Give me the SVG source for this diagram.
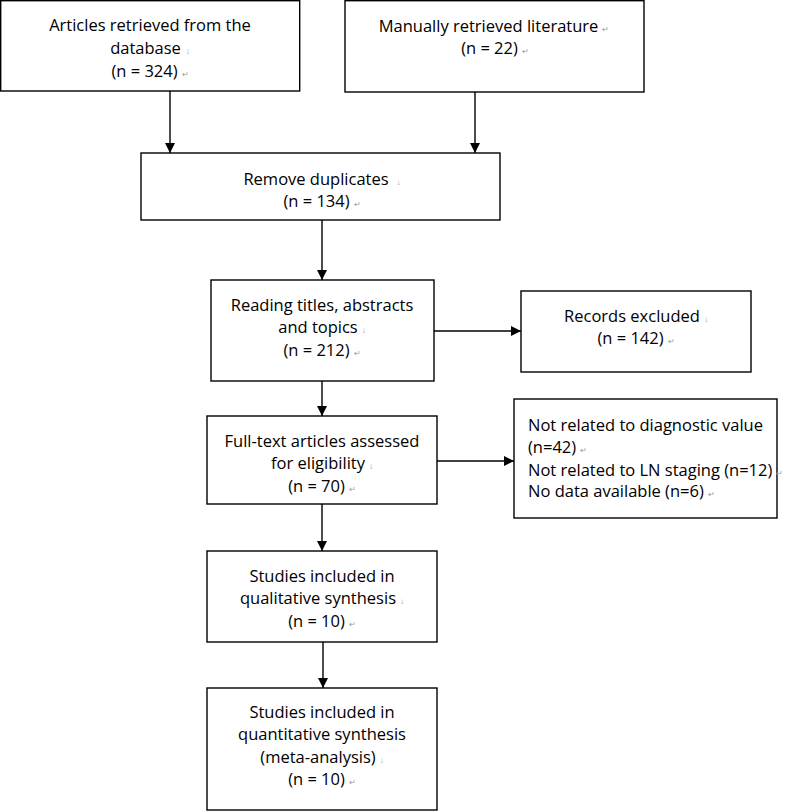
<svg xmlns="http://www.w3.org/2000/svg" width="797" height="812" viewBox="0 0 797 812">
<defs>
<style>
.box{fill:#fff;stroke:#000;stroke-width:1.4}
.t{font-family:"Open Sans","Noto Sans",sans-serif;font-size:16.5px;fill:#000;text-anchor:middle}
.l{text-anchor:start}
.m{font-size:8px;fill:#999}
.c{stroke:#000;stroke-width:1.4;fill:none}
</style>
<marker id="ah" markerWidth="10" markerHeight="10" refX="10" refY="5" orient="auto" markerUnits="userSpaceOnUse">
<path d="M0,0 L10,5 L0,10 Z" fill="#000"/>
</marker>
</defs>
<rect width="797" height="812" fill="#fff"/>
<g id="connectors">
<line class="c" x1="170" y1="91" x2="170" y2="153" marker-end="url(#ah)"/>
<line class="c" x1="475" y1="92" x2="475" y2="153" marker-end="url(#ah)"/>
<line class="c" x1="322" y1="220" x2="322" y2="280" marker-end="url(#ah)"/>
<line class="c" x1="322" y1="381" x2="322" y2="416" marker-end="url(#ah)"/>
<line class="c" x1="322" y1="504" x2="322" y2="551" marker-end="url(#ah)"/>
<line class="c" x1="323" y1="642" x2="323" y2="688" marker-end="url(#ah)"/>
<line class="c" x1="434" y1="331" x2="521" y2="331" marker-end="url(#ah)"/>
<line class="c" x1="437" y1="461" x2="514" y2="461" marker-end="url(#ah)"/>
</g>
<g id="n1">
<rect class="box" x="0.7" y="0.7" width="299" height="90.3"/>
<text class="t" x="150" y="31">Articles retrieved from the</text>
<text class="t" x="150" y="54">database<tspan class="m" dx="5">↓</tspan></text>
<text class="t" x="150" y="77">(n = 324)<tspan class="m" dx="4">↵</tspan></text>
</g>
<g id="n2">
<rect class="box" x="345" y="0.7" width="299" height="91.3"/>
<text class="t" x="494" y="32">Manually retrieved literature<tspan class="m" dx="4">↵</tspan></text>
<text class="t" x="495" y="54">(n = 22)<tspan class="m" dx="4">↵</tspan></text>
</g>
<g id="n3">
<rect class="box" x="141" y="153" width="359" height="67"/>
<text class="t" x="322" y="185">Remove duplicates<tspan class="m" dx="8">↓</tspan></text>
<text class="t" x="322" y="207">(n = 134)<tspan class="m" dx="4">↵</tspan></text>
</g>
<g id="n4">
<rect class="box" x="211" y="280" width="223" height="101"/>
<text class="t" x="322" y="311">Reading titles, abstracts</text>
<text class="t" x="322" y="333">and topics<tspan class="m" dx="4">↓</tspan></text>
<text class="t" x="322" y="356">(n = 212)<tspan class="m" dx="4">↵</tspan></text>
</g>
<g id="n5">
<rect class="box" x="521" y="291" width="230" height="81"/>
<text class="t" x="636" y="322">Records excluded<tspan class="m" dx="4">↓</tspan></text>
<text class="t" x="636" y="344">(n = 142)<tspan class="m" dx="4">↵</tspan></text>
</g>
<g id="n6">
<rect class="box" x="207" y="416" width="230" height="88"/>
<text class="t" x="322" y="447">Full-text articles assessed</text>
<text class="t" x="322" y="469">for eligibility<tspan class="m" dx="4">↓</tspan></text>
<text class="t" x="322" y="492">(n = 70)<tspan class="m" dx="4">↵</tspan></text>
</g>
<g id="n7">
<rect class="box" x="514" y="399" width="263" height="119"/>
<text class="t l" x="528" y="431">Not related to diagnostic value</text>
<text class="t l" x="528" y="453">(n=42)<tspan class="m" dx="4">↵</tspan></text>
<text class="t l" x="528" y="476">Not related to LN staging (n=12)<tspan class="m" dx="4">↵</tspan></text>
<text class="t l" x="528" y="497">No data available (n=6)<tspan class="m" dx="4">↵</tspan></text>
</g>
<g id="n8">
<rect class="box" x="207" y="551" width="230" height="91"/>
<text class="t" x="322" y="582">Studies included in</text>
<text class="t" x="322" y="604">qualitative synthesis<tspan class="m" dx="4">↓</tspan></text>
<text class="t" x="322" y="627">(n = 10)<tspan class="m" dx="4">↵</tspan></text>
</g>
<g id="n9">
<rect class="box" x="207" y="688" width="230" height="122"/>
<text class="t" x="322" y="718">Studies included in</text>
<text class="t" x="322" y="740">quantitative synthesis</text>
<text class="t" x="322" y="763">(meta-analysis)<tspan class="m" dx="4">↓</tspan></text>
<text class="t" x="322" y="785">(n = 10)<tspan class="m" dx="4">↵</tspan></text>
</g>
</svg>
